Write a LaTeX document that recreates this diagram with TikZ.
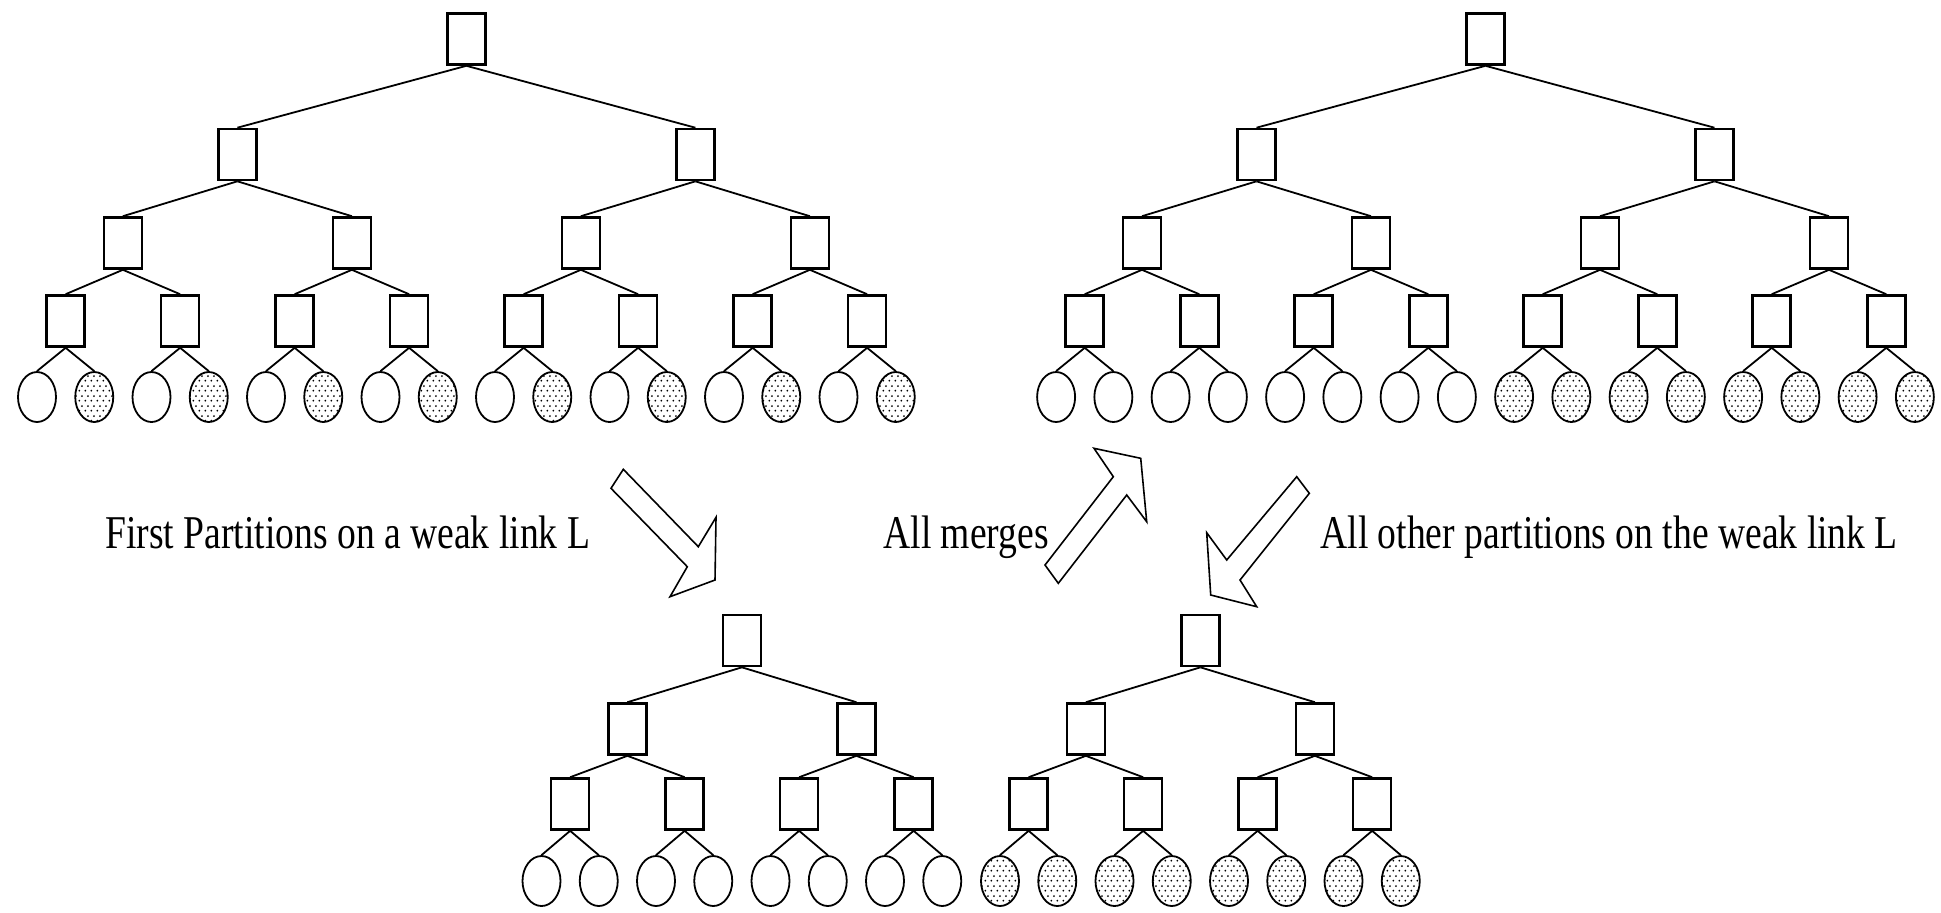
\documentclass[tikz,border=0pt]{standalone}
\usepackage{graphicx}
\usepackage{fontspec}
\setmainfont{Liberation Serif}
\usetikzlibrary{shapes.geometric,patterns}

% staggered dot fill for the shaded leaves
\pgfdeclarepatternformonly{leafdots}{\pgfqpoint{0pt}{0pt}}{\pgfqpoint{3pt}{5pt}}{\pgfqpoint{3pt}{5pt}}{%
  \pgfpathcircle{\pgfqpoint{0.75pt}{1.25pt}}{0.55pt}%
  \pgfpathcircle{\pgfqpoint{2.25pt}{3.75pt}}{0.55pt}%
  \pgfusepath{fill}%
}

% condensed serif captions
\newcommand\narrowcap[1]{\scalebox{0.8}[1]{#1}}

\tikzset{
  treebox/.style={draw, line width=1.3pt, rectangle, inner sep=0pt,
    minimum width=19pt, minimum height=25.5pt, fill=white},
  leafw/.style={draw, line width=0.9pt, ellipse, inner sep=0pt,
    minimum width=19pt, minimum height=25pt},
  leafd/.style={leafw, pattern=leafdots},
  link/.style={line width=0.9pt},
  blockarrow/.style={draw, line width=0.8pt, line join=miter, fill=white},
  lbl/.style={inner sep=0pt, font=\fontsize{23.5pt}{27pt}\selectfont}
}

\begin{document}
\begin{tikzpicture}[x=0.5pt, y=-0.5pt]
\useasboundingbox (0,0) rectangle (1941,912);

% ---------- upper trees: four box levels and sixteen leaves ----------
\foreach \tr/\xo in {A/37, B/1056.1} {
  \foreach \lv/\yy/\cnt in {0/39/1, 1/154.5/2, 2/243/4, 3/321/8} {
    \pgfmathsetmacro\spanw{16/\cnt}
    \pgfmathtruncatemacro\lastj{\cnt-1}
    \foreach \j in {0,...,\lastj} {
      \node[treebox] (\tr-\lv-\j) at ({\xo+57.25*(\spanw*\j+(\spanw-1)/2)}, \yy) {};
    }
  }
}
% leaves of the left tree alternate plain / dotted
\foreach \j/\st in {0/leafw,1/leafd,2/leafw,3/leafd,4/leafw,5/leafd,6/leafw,7/leafd,
                    8/leafw,9/leafd,10/leafw,11/leafd,12/leafw,13/leafd,14/leafw,15/leafd} {
  \node[\st] (A-4-\j) at ({37+57.25*\j}, 397) {};
}
% leaves of the right tree: first half plain, second half dotted
\foreach \j/\st in {0/leafw,1/leafw,2/leafw,3/leafw,4/leafw,5/leafw,6/leafw,7/leafw,
                    8/leafd,9/leafd,10/leafd,11/leafd,12/leafd,13/leafd,14/leafd,15/leafd} {
  \node[\st] (B-4-\j) at ({1056.1+57.25*\j}, 397) {};
}
\foreach \tr in {A,B} {
  \foreach \lv/\cnt in {0/1, 1/2, 2/4, 3/8} {
    \pgfmathtruncatemacro\nx{\lv+1}
    \pgfmathtruncatemacro\lastj{\cnt-1}
    \foreach \j in {0,...,\lastj} {
      \pgfmathtruncatemacro\ca{2*\j}
      \pgfmathtruncatemacro\cb{2*\j+1}
      \draw[link] (\tr-\lv-\j.south) -- (\tr-\nx-\ca.north);
      \draw[link] (\tr-\lv-\j.south) -- (\tr-\nx-\cb.north);
    }
  }
}

% ---------- lower trees: three box levels and eight leaves ----------
\foreach \tr/\xo in {C/541.5, D/1000} {
  \foreach \lv/\yy/\cnt in {0/640.5/1, 1/729/2, 2/804/4} {
    \pgfmathsetmacro\spanw{8/\cnt}
    \pgfmathtruncatemacro\lastj{\cnt-1}
    \foreach \j in {0,...,\lastj} {
      \node[treebox] (\tr-\lv-\j) at ({\xo+57.25*(\spanw*\j+(\spanw-1)/2)}, \yy) {};
    }
  }
}
\foreach \j in {0,...,7} {
  \node[leafw] (C-3-\j) at ({541.5+57.25*\j}, 881) {};
  \node[leafd] (D-3-\j) at ({1000+57.25*\j}, 881) {};
}
\foreach \tr in {C,D} {
  \foreach \lv/\cnt in {0/1, 1/2, 2/4} {
    \pgfmathtruncatemacro\nx{\lv+1}
    \pgfmathtruncatemacro\lastj{\cnt-1}
    \foreach \j in {0,...,\lastj} {
      \pgfmathtruncatemacro\ca{2*\j}
      \pgfmathtruncatemacro\cb{2*\j+1}
      \draw[link] (\tr-\lv-\j.south) -- (\tr-\nx-\ca.north);
      \draw[link] (\tr-\lv-\j.south) -- (\tr-\nx-\cb.north);
    }
  }
}

% ---------- hollow block arrows ----------
\draw[blockarrow] (611,488.3) -- (687.3,566.7) -- (670,596.7) -- (715,580)
  -- (716,517.3) -- (698.3,546.7) -- (623.3,469.3) -- cycle;
\draw[blockarrow] (1045,565) -- (1113.3,476.7) -- (1094,448.3) -- (1140.7,458.3)
  -- (1146.7,521.7) -- (1126.7,495) -- (1058.3,583.3) -- cycle;
\draw[blockarrow] (1296.7,476.7) -- (1309.3,493.3) -- (1240,580) -- (1256.7,606.7)
  -- (1210.7,595) -- (1206.7,532.7) -- (1226.7,560) -- cycle;

% ---------- labels ----------
\node[lbl, anchor=base west] (first) at (105,548) {\narrowcap{First Partitions on a weak link L}};
\node[lbl, anchor=base west] (merges) at (883,548) {\narrowcap{All merges}};
\node[lbl, anchor=base west] (others) at (1320,548) {\narrowcap{All other partitions on the weak link L}};
\end{tikzpicture}
\end{document}
